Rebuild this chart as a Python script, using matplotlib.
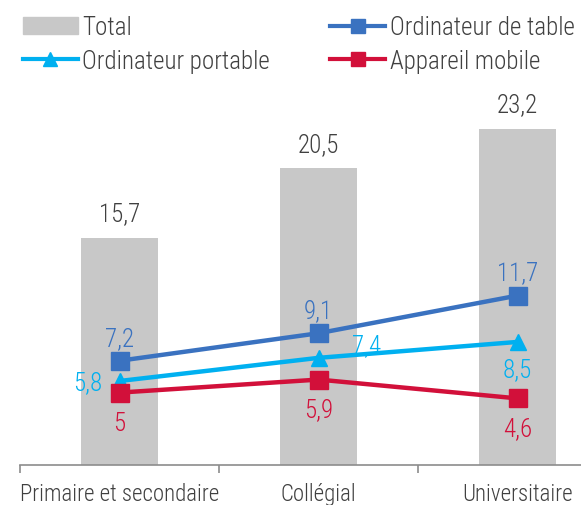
import matplotlib.pyplot as plt
from matplotlib.patches import Patch
from matplotlib.lines import Line2D
import numpy as np

plt.rcParams['font.family'] = ['Roboto Condensed', 'DejaVu Sans']
plt.rcParams['font.weight'] = 'light'

categories = ["Primaire et secondaire", "Collégial", "Universitaire"]
total = [15.7, 20.5, 23.2]
table = [7.2, 9.1, 11.7]
portable = [5.8, 7.4, 8.5]
mobile = [5.0, 5.9, 4.6]

GRAY = "#c8c8c8"
BLUE = "#3a72c0"
CYAN = "#00b0f0"
RED = "#d2103a"
TXT = "#404040"

def fmt(v):
    s = ("%.1f" % v).replace(".", ",")
    return s[:-2] if s.endswith(",0") else s

fig = plt.figure(figsize=(5.81, 5.06), dpi=100)
ax = fig.add_axes([20 / 581, 40 / 506, 597 / 581, 362 / 506])

x = np.arange(len(categories))
ax.bar(x, total, width=0.39, color=GRAY, zorder=1)
ax.plot(x, table, color=BLUE, lw=3.2, marker="s", ms=13, zorder=3)
ax.plot(x, portable, color=CYAN, lw=3.2, marker="^", ms=12, zorder=3)
ax.plot(x, mobile, color=RED, lw=3.2, marker="s", ms=13, zorder=3)

ax.set_xlim(-0.5, 2.5)
ax.set_ylim(0, 25)

NUM = 18
for i, v in enumerate(total):
    ax.annotate(fmt(v), (i, v), xytext=(0, 9), textcoords="offset points",
                ha="center", va="bottom", fontsize=NUM, color=TXT)
for i, v in enumerate(table):
    ax.annotate(fmt(v), (i, v), xytext=(0, 8), textcoords="offset points",
                ha="center", va="bottom", fontsize=NUM, color=BLUE)
offs = [(-12, -1, "right", "center"), (24, 9, "left", "center"), (0, -11, "center", "top")]
for i, v in enumerate(portable):
    dx, dy, ha, va = offs[i]
    ax.annotate(fmt(v), (i, v), xytext=(dx, dy), textcoords="offset points",
                ha=ha, va=va, fontsize=NUM, color=CYAN, zorder=2)
for i, v in enumerate(mobile):
    ax.annotate(fmt(v), (i, v), xytext=(0, -13), textcoords="offset points",
                ha="center", va="top", fontsize=NUM, color=RED)

for s in ["top", "right", "left"]:
    ax.spines[s].set_visible(False)
ax.spines["bottom"].set_color("#8c8c8c")
ax.spines["bottom"].set_linewidth(1.2)
ax.set_yticks([])
ax.set_xticks(x)
ax.set_xticklabels(categories, fontsize=16.5, color=TXT)
ax.tick_params(axis="x", which="major", length=0, pad=12)
ax.set_xticks([-0.5, 0.5, 1.5, 2.5], minor=True)
ax.tick_params(axis="x", which="minor", length=6, width=1.2, color="#8c8c8c", direction="out")

handles = [
    Patch(color=GRAY, label="Total"),
    Line2D([], [], color=CYAN, lw=3, marker="^", ms=10, label="Ordinateur portable"),
    Line2D([], [], color=BLUE, lw=3, marker="s", ms=10, label="Ordinateur de table"),
    Line2D([], [], color=RED, lw=3, marker="s", ms=10, label="Appareil mobile"),
]
fig.legend(handles=handles, ncol=2, loc="upper left", bbox_to_anchor=(0.0, 1.012),
           frameon=False, fontsize=18, handlelength=2.2, handletextpad=0.2,
           columnspacing=2.4, labelspacing=0.38, labelcolor=TXT)

fig.savefig("out.png", dpi=100)
